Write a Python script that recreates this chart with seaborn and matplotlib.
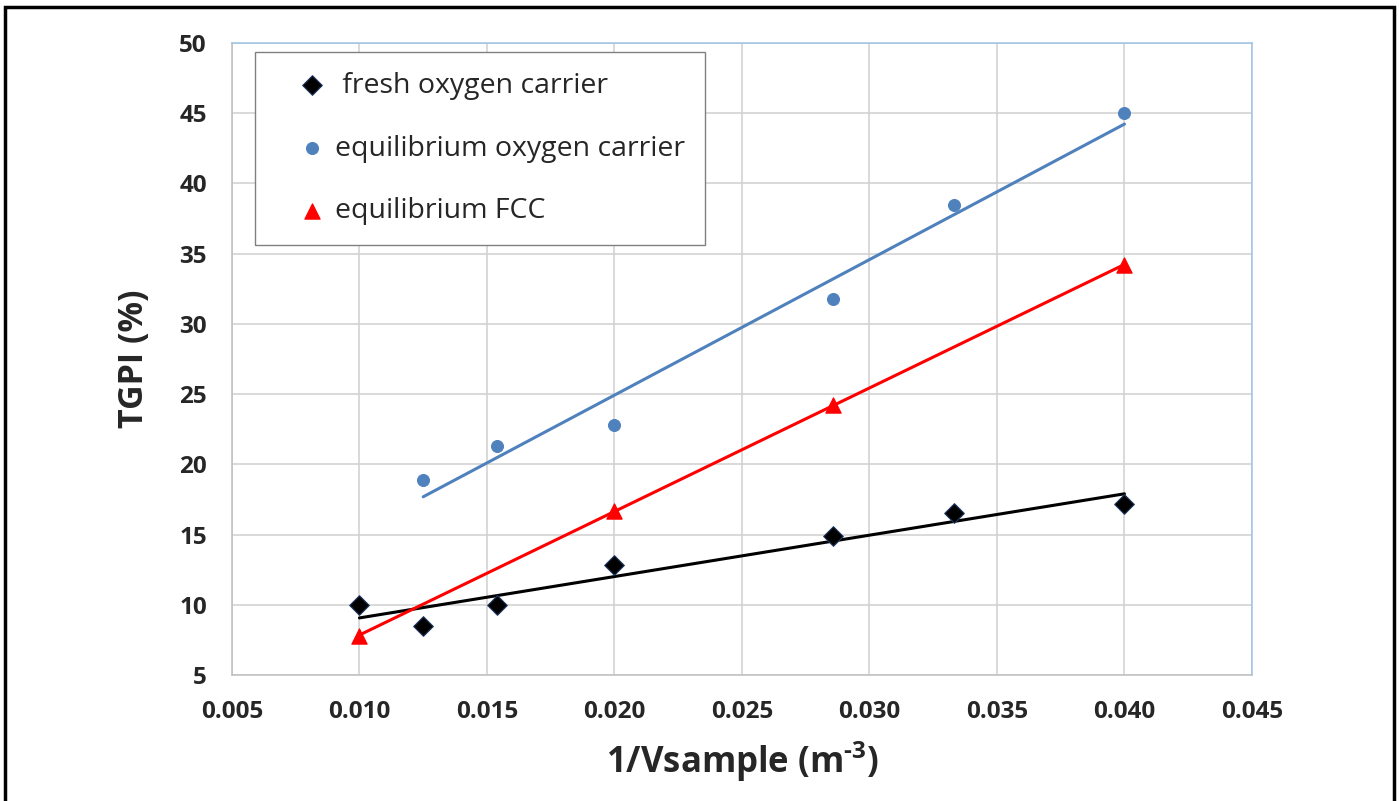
import numpy as np
import pandas as pd
import seaborn as sns
import matplotlib.pyplot as plt
from matplotlib.patches import Rectangle

# Data
fresh_x = [0.010, 0.0125, 0.01538, 0.020, 0.02857, 0.03333, 0.040]
fresh_y = [10.0, 8.5, 10.0, 12.8, 14.9, 16.5, 17.2]
equil_x = [0.0125, 0.01538, 0.020, 0.02857, 0.03333, 0.040]
equil_y = [18.9, 21.3, 22.8, 31.8, 38.5, 45.0]
fcc_x = [0.010, 0.020, 0.02857, 0.040]
fcc_y = [7.8, 16.7, 24.2, 34.2]

x_ticks = [0.005, 0.010, 0.015, 0.020, 0.025, 0.030, 0.035, 0.040, 0.045]
y_ticks = [5, 10, 15, 20, 25, 30, 35, 40, 45, 50]

sns.set_style("white")
plt.rcParams['font.family'] = ['Open Sans', 'DejaVu Sans']
plt.rcParams['mathtext.fontset'] = 'custom'
plt.rcParams['mathtext.rm'] = 'Open Sans:bold'
plt.rcParams['mathtext.bf'] = 'Open Sans:bold'

fresh = pd.DataFrame({'x': fresh_x, 'y': fresh_y})
equil = pd.DataFrame({'x': equil_x, 'y': equil_y})
fcc = pd.DataFrame({'x': fcc_x, 'y': fcc_y})

fig = plt.figure(figsize=(13.99, 8.01), dpi=100)
ax = fig.add_axes([0.1658, 0.1573, 0.7291, 0.7890])

blue = '#4F81BD'
red = '#FF0000'

# trend lines
sns.regplot(data=fresh, x='x', y='y', ax=ax, scatter=False, ci=None, truncate=True,
            line_kws={'color': 'black', 'lw': 2.2})
sns.regplot(data=equil, x='x', y='y', ax=ax, scatter=False, ci=None, truncate=True,
            line_kws={'color': blue, 'lw': 2.2})
sns.regplot(data=fcc, x='x', y='y', ax=ax, scatter=False, ci=None, truncate=True,
            line_kws={'color': red, 'lw': 2.2})

# markers
sns.scatterplot(data=fresh, x='x', y='y', ax=ax, marker='D', s=100, color='black',
                edgecolor='#1F3864', linewidth=0.8, label=' fresh oxygen carrier', zorder=5)
sns.scatterplot(data=equil, x='x', y='y', ax=ax, marker='o', s=75, color=blue,
                edgecolor=blue, label='equilibrium oxygen carrier', zorder=5)
sns.scatterplot(data=fcc, x='x', y='y', ax=ax, marker='^', s=120, color=red,
                edgecolor=red, label='equilibrium FCC', zorder=5)

ax.set_xlim(0.005, 0.045)
ax.set_ylim(5, 50)
ax.set_xticks(x_ticks)
ax.set_yticks(y_ticks)
ax.set_xticklabels([f"{v:.3f}" for v in x_ticks])
ax.set_yticklabels([str(v) for v in y_ticks])
ax.tick_params(axis='both', labelsize=17.5, length=8, width=1, color='#BFBFBF', pad=10)
for lab in ax.get_xticklabels() + ax.get_yticklabels():
    lab.set_fontweight('bold')

ax.grid(True, color='#D0D0D0', lw=1.1)
ax.set_axisbelow(True)
for side in ['left', 'bottom']:
    ax.spines[side].set_color('#BFBFBF')
    ax.spines[side].set_linewidth(1.1)
for side in ['top', 'right']:
    ax.spines[side].set_visible(True)
    ax.spines[side].set_color('#9DC3E6')
    ax.spines[side].set_linewidth(1.1)

ax.set_xlabel(r"1/Vsample (m$^{\text{-3}}$)", fontsize=25, fontweight='bold', labelpad=11)
ax.set_ylabel("TGPI (%)", fontsize=24.5, fontweight='bold', labelpad=20)

leg = ax.legend(loc='upper left', bbox_to_anchor=(0.0225, 0.986), fontsize=20.5,
                frameon=True, fancybox=False, framealpha=1, edgecolor='#808080',
                labelspacing=1.22, borderpad=0.7, handletextpad=-0.5,
                handlelength=2.6, borderaxespad=0)
leg.get_frame().set_linewidth(1.0)
leg.set_zorder(10)

# outer border of the picture
fig.patches.append(Rectangle((5 / 1399, -0.02), 1389 / 1399, 1 - 7 / 801 + 0.02,
                             transform=fig.transFigure, fill=False,
                             edgecolor='black', lw=2.5))

fig.savefig('out.png', dpi=100)
